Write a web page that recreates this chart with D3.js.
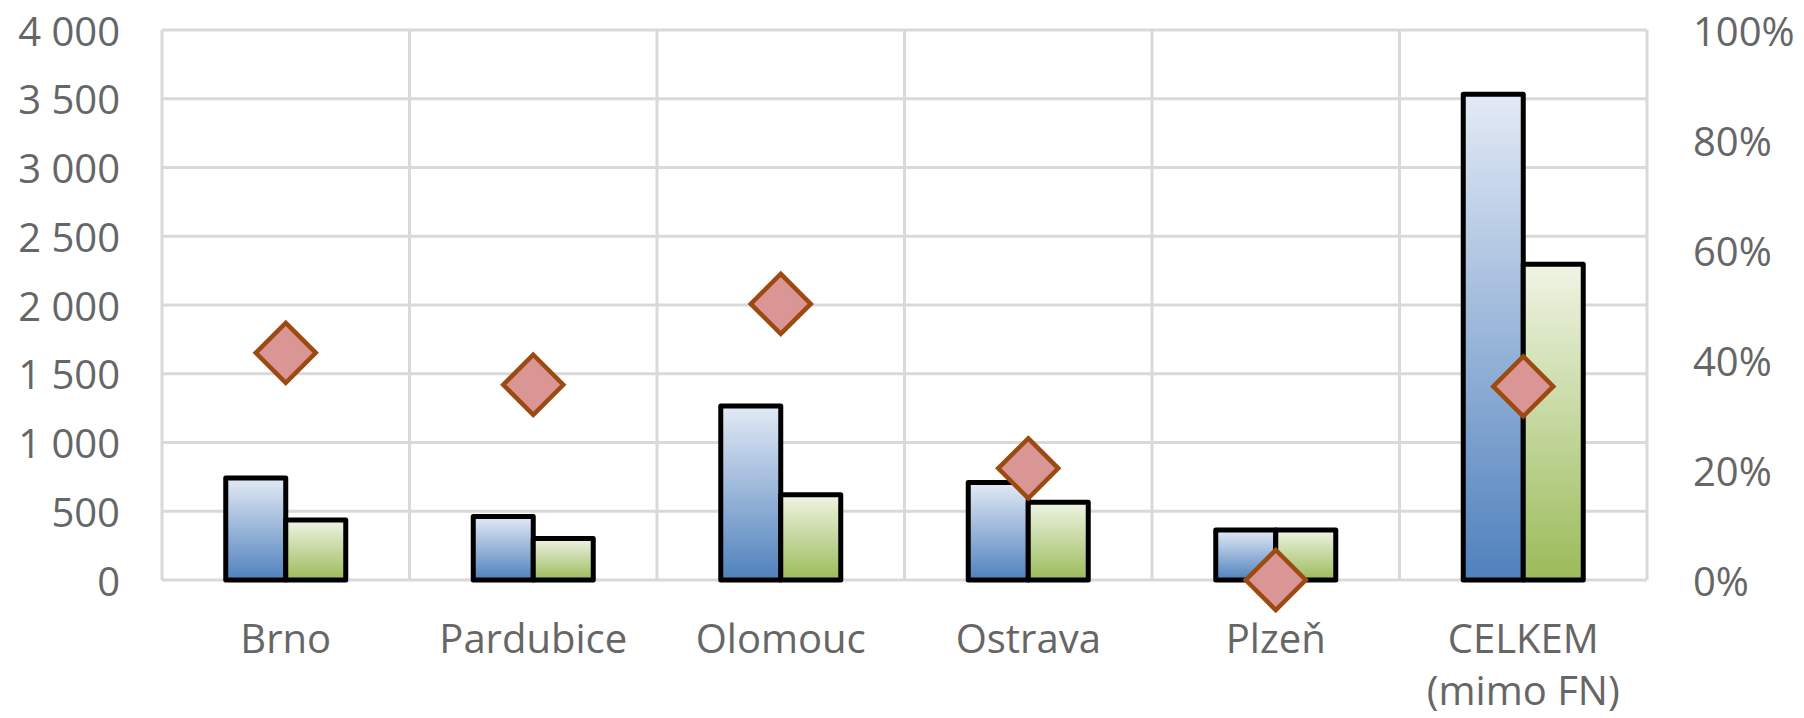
<!DOCTYPE html>
<html>
<head>
    <meta charset="utf-8">
    <title>Brno - CELKEM</title>
    <script src="https://d3js.org/d3.v7.min.js"></script>
    <style>
        body { margin: 0; background: #ffffff; }
        text {
            font-family: "Open Sans", "DejaVu Sans", sans-serif;
            font-size: 40px;
            fill: #666666;
        }
        .grid line { stroke: #d9d9d9; stroke-width: 3px; }
        .bar { stroke: #000000; stroke-width: 5px; stroke-linejoin: round; }
        .marker { fill: #d99694; stroke: #9c4a12; stroke-width: 4.5px; }
    </style>
</head>
<body>
<div id="chart"></div>
<script>
    // data
    const categories = ["Brno", "Pardubice", "Olomouc", "Ostrava", "Plzeň", "CELKEM\n(mimo FN)"];
    const series_blue = [742, 461, 1265, 710, 364, 3532];
    const series_green = [436, 302, 620, 565, 364, 2296];
    const series_pct = [0.413, 0.355, 0.502, 0.203, 0.0, 0.352];
    const left_ticks = [0, 500, 1000, 1500, 2000, 2500, 3000, 3500, 4000];
    const right_ticks = [0, 0.2, 0.4, 0.6, 0.8, 1.0];

    const width = 1804;
    const height = 718;

    const plot_left = 162;
    const plot_right = 1647;
    const plot_top = 30;
    const plot_bottom = 580;

    const svg = d3.select("#chart")
        .append("svg")
        .attr("width", width)
        .attr("height", height);

    // gradients for the bars (light at top, saturated at bottom)
    const defs = svg.append("defs");
    const gradients = [
        { id: "grad_blue", top: "#e3eaf5", bottom: "#4f81bd" },
        { id: "grad_green", top: "#eff4e5", bottom: "#9bbb59" }
    ];
    gradients.forEach(g => {
        const lg = defs.append("linearGradient")
            .attr("id", g.id)
            .attr("x1", 0).attr("y1", 0)
            .attr("x2", 0).attr("y2", 1);
        lg.append("stop").attr("offset", "0%").attr("stop-color", g.top);
        lg.append("stop").attr("offset", "100%").attr("stop-color", g.bottom);
    });

    // scales
    const x0 = d3.scaleBand()
        .domain(categories)
        .range([plot_left, plot_right])
        .padding(0);

    const x1 = d3.scaleBand()
        .domain(["blue", "green"])
        .range([0, x0.bandwidth()])
        .paddingInner(0)
        .paddingOuter(1.0625);

    const y_left = d3.scaleLinear()
        .domain([0, 4000])
        .range([plot_bottom, plot_top]);

    const y_right = d3.scaleLinear()
        .domain([0, 1])
        .range([plot_bottom, plot_top]);

    // horizontal gridlines
    const grid = svg.append("g").attr("class", "grid");
    grid.selectAll("line.h")
        .data(left_ticks)
        .enter()
        .append("line")
        .attr("class", "h")
        .attr("x1", plot_left)
        .attr("x2", plot_right)
        .attr("y1", d => y_left(d))
        .attr("y2", d => y_left(d));

    // vertical category separators
    const v_lines = categories.map(c => x0(c)).concat([plot_right]);
    grid.selectAll("line.v")
        .data(v_lines)
        .enter()
        .append("line")
        .attr("class", "v")
        .attr("x1", d => d)
        .attr("x2", d => d)
        .attr("y1", plot_top)
        .attr("y2", plot_bottom);

    // left axis labels
    const fmt_left = d => d3.format(",")(d).replace(/,/g, " ");
    svg.append("g")
        .selectAll("text")
        .data(left_ticks)
        .enter()
        .append("text")
        .attr("x", 120)
        .attr("y", d => y_left(d))
        .attr("text-anchor", "end")
        .attr("dominant-baseline", "central")
        .text(d => fmt_left(d));

    // right axis labels
    svg.append("g")
        .selectAll("text")
        .data(right_ticks)
        .enter()
        .append("text")
        .attr("x", 1693)
        .attr("y", d => y_right(d))
        .attr("text-anchor", "start")
        .attr("dominant-baseline", "central")
        .text(d => d3.format(".0%")(d));

    // category labels
    const cat_labels = svg.append("g")
        .selectAll("text")
        .data(categories)
        .enter()
        .append("text")
        .attr("x", d => x0(d) + x0.bandwidth() / 2)
        .attr("y", 653)
        .attr("text-anchor", "middle");

    cat_labels.selectAll("tspan")
        .data(d => d.split("\n").map(t => ({ t: t, x: x0(d) + x0.bandwidth() / 2 })))
        .enter()
        .append("tspan")
        .attr("x", d => d.x)
        .attr("dy", (d, i) => i === 0 ? 0 : 52)
        .text(d => d.t);

    // bars
    const bar_data = [];
    categories.forEach((c, i) => {
        bar_data.push({ cat: c, key: "blue", value: series_blue[i] });
        bar_data.push({ cat: c, key: "green", value: series_green[i] });
    });

    svg.append("g")
        .selectAll("rect")
        .data(bar_data)
        .enter()
        .append("rect")
        .attr("class", "bar")
        .attr("x", d => x0(d.cat) + x1(d.key))
        .attr("y", d => y_left(d.value))
        .attr("width", x1.bandwidth())
        .attr("height", d => y_left(0) - y_left(d.value))
        .attr("fill", d => d.key === "blue" ? "url(#grad_blue)" : "url(#grad_green)");

    // diamond markers on right axis
    const half = 30;
    svg.append("g")
        .selectAll("path")
        .data(categories.map((c, i) => ({ cat: c, value: series_pct[i] })))
        .enter()
        .append("path")
        .attr("class", "marker")
        .attr("transform", d => "translate(" + (x0(d.cat) + x0.bandwidth() / 2) + "," + y_right(d.value) + ")")
        .attr("d", "M0," + (-half) + " L" + half + ",0 L0," + half + " L" + (-half) + ",0 Z");
</script>
</body>
</html>
